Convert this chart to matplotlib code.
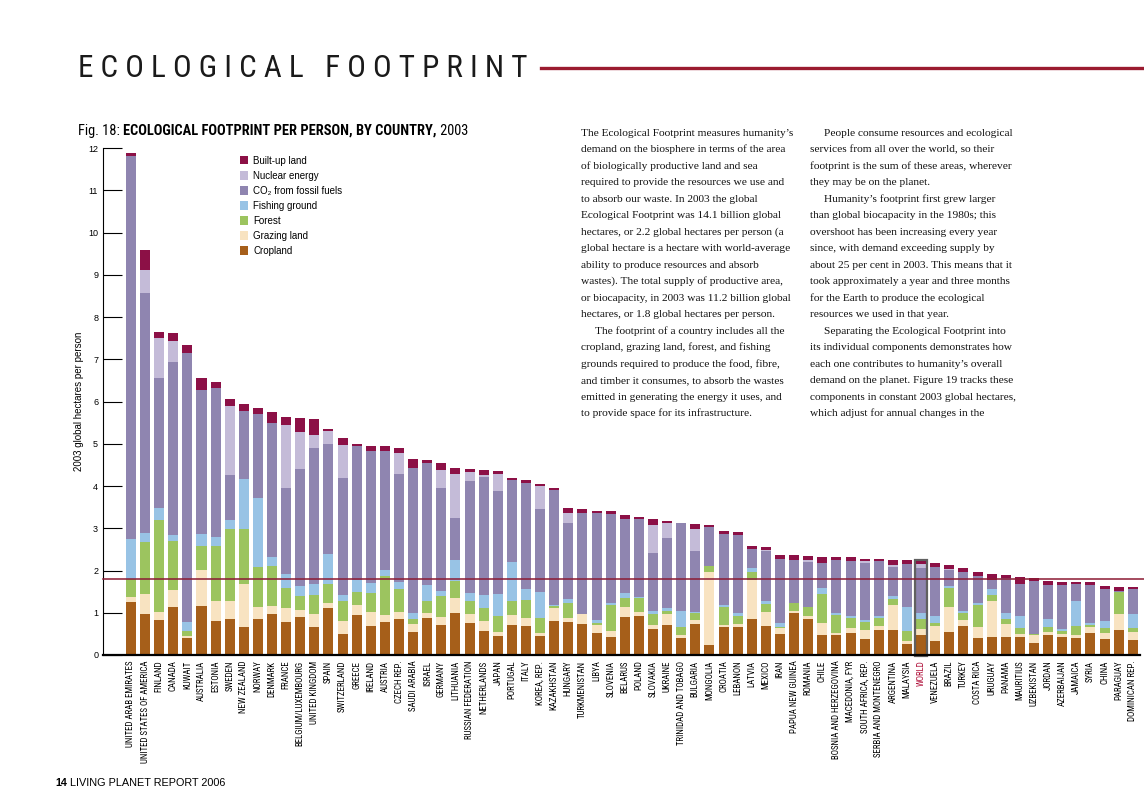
import matplotlib.pyplot as plt
import numpy as np
from matplotlib.patches import Rectangle

# ecological footprint per person 2003, global hectares, by component
countries = ["UNITED ARAB EMIRATES", "UNITED STATES OF AMERICA", "FINLAND", "CANADA", "KUWAIT",
             "AUSTRALIA", "ESTONIA", "SWEDEN", "NEW ZEALAND", "NORWAY", "DENMARK", "FRANCE",
             "BELGIUM/LUXEMBOURG", "UNITED KINGDOM", "SPAIN", "SWITZERLAND", "GREECE", "IRELAND",
             "AUSTRIA", "CZECH REP.", "SAUDI ARABIA", "ISRAEL", "GERMANY", "LITHUANIA",
             "RUSSIAN FEDERATION", "NETHERLANDS", "JAPAN", "PORTUGAL", "ITALY", "KOREA, REP.",
             "KAZAKHSTAN", "HUNGARY", "TURKMENISTAN", "LIBYA", "SLOVENIA", "BELARUS", "POLAND",
             "SLOVAKIA", "UKRAINE", "TRINIDAD AND TOBAGO", "BULGARIA", "MONGOLIA", "CROATIA",
             "LEBANON", "LATVIA", "MEXICO", "IRAN", "PAPUA NEW GUINEA", "ROMANIA", "CHILE",
             "BOSNIA AND HERZEGOVINA", "MACEDONIA, FYR", "SOUTH AFRICA, REP.",
             "SERBIA AND MONTENEGRO", "ARGENTINA", "MALAYSIA", "WORLD", "VENEZUELA", "BRAZIL",
             "TURKEY", "COSTA RICA", "URUGUAY", "PANAMA", "MAURITIUS", "UZBEKISTAN", "JORDAN",
             "AZERBAIJAN", "JAMAICA", "SYRIA", "CHINA", "PARAGUAY", "DOMINICAN REP."]

cropland = [1.26, 0.98, 0.83, 1.14, 0.41, 1.16, 0.80, 0.85, 0.66, 0.85, 0.97, 0.78,
            0.90, 0.66, 1.11, 0.50, 0.95, 0.69, 0.78, 0.85, 0.54, 0.88, 0.71, 0.99,
            0.76, 0.57, 0.45, 0.71, 0.69, 0.45, 0.80, 0.78, 0.73, 0.52, 0.43, 0.90,
            0.92, 0.62, 0.71, 0.40, 0.73, 0.24, 0.66, 0.66, 0.85, 0.69, 0.50, 0.99,
            0.85, 0.47, 0.47, 0.52, 0.38, 0.59, 0.59, 0.26, 0.47, 0.33, 0.54, 0.69,
            0.40, 0.43, 0.43, 0.43, 0.28, 0.47, 0.43, 0.40, 0.52, 0.38, 0.59, 0.36]
grazing = [0.12, 0.46, 0.19, 0.40, 0.05, 0.85, 0.48, 0.43, 1.02, 0.29, 0.19, 0.33,
           0.17, 0.31, 0.12, 0.30, 0.23, 0.33, 0.17, 0.17, 0.19, 0.11, 0.19, 0.36,
           0.21, 0.23, 0.09, 0.24, 0.19, 0.07, 0.31, 0.10, 0.24, 0.19, 0.14, 0.24,
           0.10, 0.09, 0.26, 0.07, 0.10, 1.72, 0.05, 0.07, 0.93, 0.33, 0.14, 0.05,
           0.07, 0.29, 0.05, 0.12, 0.21, 0.10, 0.59, 0.07, 0.15, 0.36, 0.60, 0.14,
           0.26, 0.85, 0.30, 0.07, 0.19, 0.07, 0.07, 0.07, 0.14, 0.14, 0.38, 0.18]
forest = [0.41, 1.24, 2.18, 1.16, 0.11, 0.57, 1.30, 1.70, 1.30, 0.94, 0.95, 0.48,
          0.33, 0.45, 0.45, 0.48, 0.31, 0.45, 0.92, 0.54, 0.12, 0.29, 0.50, 0.40,
          0.31, 0.31, 0.38, 0.33, 0.42, 0.36, 0.05, 0.35, 0.00, 0.05, 0.61, 0.21,
          0.33, 0.26, 0.07, 0.19, 0.16, 0.15, 0.43, 0.19, 0.18, 0.19, 0.02, 0.19,
          0.22, 0.68, 0.43, 0.24, 0.19, 0.19, 0.15, 0.24, 0.23, 0.07, 0.45, 0.16,
          0.52, 0.14, 0.12, 0.14, 0.03, 0.12, 0.07, 0.22, 0.05, 0.12, 0.52, 0.10]
fishing = [0.96, 0.21, 0.28, 0.14, 0.20, 0.28, 0.21, 0.22, 1.19, 1.64, 0.21, 0.33,
           0.23, 0.26, 0.71, 0.14, 0.29, 0.23, 0.14, 0.17, 0.14, 0.38, 0.11, 0.50,
           0.19, 0.31, 0.52, 0.92, 0.26, 0.61, 0.02, 0.10, 0.00, 0.07, 0.05, 0.12,
           0.02, 0.07, 0.07, 0.38, 0.03, 0.00, 0.04, 0.07, 0.10, 0.07, 0.10, 0.00,
           0.00, 0.15, 0.04, 0.04, 0.05, 0.04, 0.07, 0.57, 0.14, 0.16, 0.04, 0.05,
           0.05, 0.14, 0.14, 0.28, 0.00, 0.19, 0.05, 0.59, 0.05, 0.16, 0.01, 0.33]
co2 = [9.06, 5.68, 3.08, 4.09, 6.37, 3.41, 3.53, 1.06, 1.61, 1.98, 3.17, 2.03,
       2.77, 3.22, 2.60, 2.77, 3.17, 3.13, 2.82, 2.55, 3.44, 2.88, 2.44, 0.99,
       2.65, 2.79, 2.44, 1.94, 2.51, 1.97, 2.73, 1.79, 2.39, 2.53, 2.11, 1.75,
       1.85, 1.37, 1.66, 2.08, 1.44, 0.92, 1.68, 1.85, 0.45, 1.18, 1.51, 1.02,
       1.06, 0.59, 1.26, 1.30, 1.35, 1.30, 0.68, 1.01, 1.07, 1.16, 0.38, 0.92,
       0.64, 0.22, 0.83, 0.76, 1.25, 0.81, 1.04, 0.40, 0.90, 0.76, 0.02, 0.59]
nuclear = [0.00, 0.54, 0.94, 0.50, 0.00, 0.00, 0.00, 1.63, 0.00, 0.00, 0.00, 1.49,
           0.88, 0.31, 0.31, 0.78, 0.00, 0.00, 0.00, 0.50, 0.00, 0.00, 0.43, 1.04,
           0.21, 0.05, 0.40, 0.00, 0.00, 0.54, 0.00, 0.24, 0.00, 0.00, 0.00, 0.00,
           0.00, 0.67, 0.35, 0.00, 0.52, 0.00, 0.00, 0.00, 0.00, 0.03, 0.00, 0.00,
           0.05, 0.00, 0.00, 0.00, 0.04, 0.00, 0.05, 0.00, 0.09, 0.00, 0.03, 0.00,
           0.00, 0.00, 0.00, 0.00, 0.00, 0.00, 0.00, 0.00, 0.00, 0.00, 0.00, 0.00]
builtup = [0.06, 0.48, 0.15, 0.19, 0.20, 0.29, 0.14, 0.17, 0.16, 0.15, 0.26, 0.19,
           0.33, 0.38, 0.05, 0.17, 0.04, 0.12, 0.12, 0.12, 0.21, 0.08, 0.16, 0.15,
           0.07, 0.12, 0.08, 0.05, 0.07, 0.05, 0.04, 0.12, 0.10, 0.05, 0.07, 0.09,
           0.05, 0.14, 0.05, 0.01, 0.12, 0.05, 0.07, 0.07, 0.07, 0.07, 0.10, 0.12,
           0.09, 0.14, 0.07, 0.10, 0.05, 0.05, 0.12, 0.10, 0.07, 0.10, 0.09, 0.10,
           0.09, 0.14, 0.07, 0.17, 0.07, 0.09, 0.07, 0.05, 0.07, 0.07, 0.10, 0.05]

biocapacity = 1.8

NARROW = ['Roboto Condensed', 'Liberation Sans', 'DejaVu Sans']
SERIF = ['Liberation Serif', 'DejaVu Serif']
plt.rcParams['font.family'] = ['Liberation Sans', 'DejaVu Sans']

layers = [
    (cropland, 'Cropland', '#a65f1a'),
    (grazing, 'Grazing land', '#f8e3c1'),
    (forest, 'Forest', '#9cc45f'),
    (fishing, 'Fishing ground', '#98c3e5'),
    (co2, 'CO₂ from fossil fuels', '#8f85b0'),
    (nuclear, 'Nuclear energy', '#c4bbd8'),
    (builtup, 'Built-up land', '#8c1046'),
]

W, H = 1144, 808
fig = plt.figure(figsize=(W / 100, H / 100), dpi=100)
ax = fig.add_axes([103 / W, 1 - 655 / H, 1037 / W, 507 / H])

x = np.arange(len(countries))
bottom = np.zeros(len(countries))
handles = []
for vals, lab, col in layers:
    b = ax.bar(x, vals, 0.71, bottom=bottom, color=col, label=lab, linewidth=0, zorder=2)
    handles.append(b)
    bottom += np.array(vals)

# world average highlighted
iw = countries.index('WORLD')
ax.add_patch(Rectangle((iw - 0.42, -0.03), 0.84, bottom[iw] + 0.06, fill=False,
                       edgecolor='#444444', linewidth=1.6, alpha=0.85, zorder=3,
                       clip_on=False))

# world biocapacity per person
ax.axhline(biocapacity, xmin=0, xmax=(W - 103) / 1037, color='#8b1a33', linewidth=1.1,
           zorder=4, clip_on=False)

ax.set_xlim(-1.98, 71.51)
ax.set_ylim(0, 12)
for s in ['top', 'right']:
    ax.spines[s].set_visible(False)
ax.spines['left'].set_linewidth(0.8)
ax.spines['bottom'].set_linewidth(1.6)
ax.spines['bottom'].set_zorder(5)

ax.set_yticks(range(13))
ax.tick_params(axis='y', direction='in', length=13.7, width=0.8, labelsize=6.5, pad=3.5)
ax.set_xticks(x)
ax.set_xticklabels(countries, rotation=90, fontsize=6.4, va='top', family=NARROW)
ax.tick_params(axis='x', length=0, pad=4)
ax.get_xticklabels()[iw].set_color('#b0103a')

ax.set_ylabel('2003 global hectares per person', fontsize=7, labelpad=4)
ax.yaxis.set_label_coords(-0.018, 0.5)

ax.legend(handles[::-1], [l[1] for l in layers][::-1], loc='upper left',
          bbox_to_anchor=(0.132, 0.985), frameon=False, fontsize=7,
          handlelength=0.85, handleheight=0.95, handletextpad=0.55,
          labelspacing=0.52, borderpad=0, borderaxespad=0)

# page title and rule
fig.text(78 / W, 1 - 77 / H, 'E C O L O G I C A L   F O O T P R I N T', fontsize=22.4,
         family=NARROW, color='#1a1a1a', va='baseline')
fig.add_artist(plt.Line2D([541 / W, 1], [1 - 68 / H, 1 - 68 / H], color='#9b1b30',
                          linewidth=2.4))

# figure caption
t1 = fig.text(78 / W, 1 - 135 / H, 'Fig. 18: ', fontsize=10.4, family=NARROW, va='baseline')
t2 = ax.annotate('ECOLOGICAL FOOTPRINT PER PERSON, BY COUNTRY,', xy=(1, 0), xycoords=t1,
                 va='bottom', ha='left', fontsize=10.4, fontweight='bold', family=NARROW)
ax.annotate(' 2003', xy=(1, 0), xycoords=t2, va='bottom', ha='left', fontsize=10.4,
            family=NARROW)

# body text columns
col1 = [
    "The Ecological Footprint measures humanity’s",
    "demand on the biosphere in terms of the area",
    "of biologically productive land and sea",
    "required to provide the resources we use and",
    "to absorb our waste. In 2003 the global",
    "Ecological Footprint was 14.1 billion global",
    "hectares, or 2.2 global hectares per person (a",
    "global hectare is a hectare with world-average",
    "ability to produce resources and absorb",
    "wastes). The total supply of productive area,",
    "or biocapacity, in 2003 was 11.2 billion global",
    "hectares, or 1.8 global hectares per person.",
    "The footprint of a country includes all the",
    "cropland, grazing land, forest, and fishing",
    "grounds required to produce the food, fibre,",
    "and timber it consumes, to absorb the wastes",
    "emitted in generating the energy it uses, and",
    "to provide space for its infrastructure.",
]
col2 = [
    "People consume resources and ecological",
    "services from all over the world, so their",
    "footprint is the sum of these areas, wherever",
    "they may be on the planet.",
    "Humanity’s footprint first grew larger",
    "than global biocapacity in the 1980s; this",
    "overshoot has been increasing every year",
    "since, with demand exceeding supply by",
    "about 25 per cent in 2003. This means that it",
    "took approximately a year and three months",
    "for the Earth to produce the ecological",
    "resources we used in that year.",
    "Separating the Ecological Footprint into",
    "its individual components demonstrates how",
    "each one contributes to humanity’s overall",
    "demand on the planet. Figure 19 tracks these",
    "components in constant 2003 global hectares,",
    "which adjust for annual changes in the",
]
indent1 = [12]
indent2 = [0, 4, 12]
for col, x0, ind in [(col1, 581, indent1), (col2, 810, indent2)]:
    for i, line in enumerate(col):
        xx = x0 + (14 if i in ind else 0)
        fig.text(xx / W, 1 - (136 + 16.47 * i) / H, line, fontsize=8.2, family=SERIF,
                 va='baseline', color='#111111')

# footer
f1 = fig.text(55 / W, 1 - 786 / H, '14', fontsize=7.8, fontweight='bold', va='baseline')
ax.annotate(' LIVING PLANET REPORT 2006', xy=(1, 0), xycoords=f1, va='bottom', ha='left',
            fontsize=7.8)

fig.savefig('out.png', dpi=100)
